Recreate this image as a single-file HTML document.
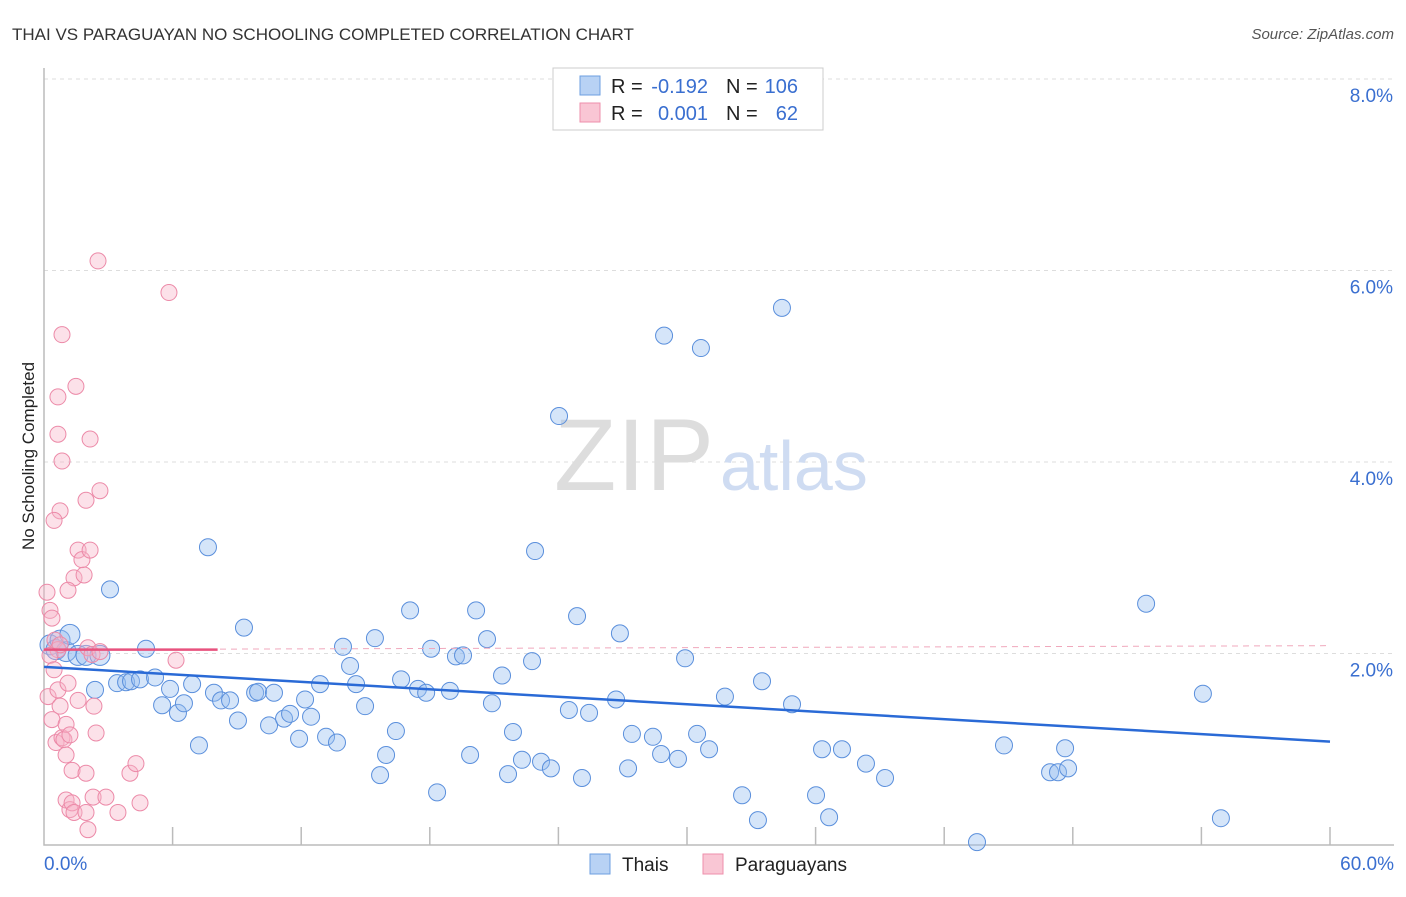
<!DOCTYPE html>
<html><head><meta charset="utf-8"><style>
body{margin:0;background:#fff;font-family:"Liberation Sans",sans-serif}
svg text{font-family:"Liberation Sans",sans-serif}
</style></head><body>
<svg id="chart" width="1406" height="892" viewBox="0 0 1406 892">
<text x="12" y="40" font-size="17" fill="#333">THAI VS PARAGUAYAN NO SCHOOLING COMPLETED CORRELATION CHART</text>
<text x="1394" y="39" font-size="15" fill="#555" font-style="italic" text-anchor="end">Source: ZipAtlas.com</text>
<text x="0" y="0" transform="translate(34,456) rotate(-90)" font-size="17" fill="#222" text-anchor="middle">No Schooling Completed</text>
<g id="grid"></g>
<text x="714" y="490" font-size="102" fill="#ddd" font-family="Liberation Serif" text-anchor="end" textLength="160">ZIP</text>
<text x="720" y="490" font-size="70" fill="#cfdcf2">atlas</text>
<g id="marks"></g>
<g>
<rect x="553" y="68" width="270" height="62" fill="#fff" stroke="#ccc"/>
<rect x="580" y="76" width="20" height="19" fill="#b8d2f4" stroke="#6d9fe0"/>
<rect x="580" y="103" width="20" height="19" fill="#f9c6d4" stroke="#ee8fab"/>
<text x="611" y="93" font-size="20" fill="#222">R =</text>
<text x="708" y="93" font-size="20" fill="#3a6fd0" text-anchor="end">-0.192</text>
<text x="726" y="93" font-size="20" fill="#222">N =</text>
<text x="798" y="93" font-size="20" fill="#3a6fd0" text-anchor="end">106</text>
<text x="611" y="120" font-size="20" fill="#222">R =</text>
<text x="708" y="120" font-size="20" fill="#3a6fd0" text-anchor="end">0.001</text>
<text x="726" y="120" font-size="20" fill="#222">N =</text>
<text x="798" y="120" font-size="20" fill="#3a6fd0" text-anchor="end">62</text>
</g>
<g>
<rect x="590" y="854" width="20" height="20" fill="#b8d2f4" stroke="#6d9fe0"/>
<text x="622" y="871" font-size="19" fill="#222">Thais</text>
<rect x="703" y="854" width="20" height="20" fill="#f9c6d4" stroke="#ee8fab"/>
<text x="735" y="871" font-size="19" fill="#222">Paraguayans</text>
</g>
</svg>
<script>
const yTicks=[2,4,6,8];
const xTickLabels=["0.0%","60.0%"];
const thaisX=[0.28,0.56,0.75,1.03,1.21,1.59,1.96,2.61,2.38,3.08,3.41,3.83,4.06,4.48,4.76,5.18,5.51,5.88,6.25,6.53,6.91,7.23,7.65,7.93,8.26,8.68,9.05,9.33,9.85,9.99,10.50,10.73,11.20,11.48,11.90,12.18,12.46,12.88,13.16,13.67,13.95,14.28,14.56,14.98,15.44,15.68,15.96,16.42,16.66,17.08,17.45,17.83,18.06,18.34,18.94,19.22,19.55,19.88,20.16,20.67,20.90,21.37,21.65,21.88,22.30,22.77,22.91,23.19,23.65,24.03,24.49,24.87,25.10,25.43,26.69,26.87,27.25,27.43,28.41,28.79,28.93,29.58,29.91,30.47,30.65,31.03,31.77,32.57,33.31,33.50,34.43,34.90,36.02,36.30,36.63,37.23,38.35,39.24,43.53,44.79,46.94,47.31,47.64,47.78,51.42,54.07,54.91];
const thaisY=[2.09,2.04,2.14,2.02,2.20,1.98,1.98,1.98,1.62,2.67,1.69,1.70,1.71,1.73,2.05,1.75,1.46,1.63,1.38,1.48,1.68,1.04,3.11,1.59,1.51,1.51,1.30,2.27,1.59,1.60,1.25,1.59,1.32,1.37,1.11,1.52,1.34,1.68,1.13,1.07,2.07,1.87,1.68,1.45,2.16,0.73,0.94,1.19,1.73,2.45,1.63,1.59,2.05,0.55,1.61,1.97,1.98,0.94,2.45,2.15,1.48,1.77,0.74,1.18,0.89,1.92,3.07,0.87,0.80,4.48,1.41,2.39,0.70,1.38,1.52,2.21,0.80,1.16,1.13,0.95,5.32,0.90,1.95,1.16,5.19,1.00,1.55,0.52,0.26,1.71,5.61,1.47,0.52,1.00,0.29,1.00,0.85,0.70,0.03,1.04,0.76,0.76,1.01,0.80,2.52,1.58,0.28];
const parX=[0.14,0.28,0.37,0.51,0.65,0.75,0.28,0.47,0.19,0.37,0.56,0.65,0.75,0.84,0.93,1.03,1.12,1.03,1.21,1.31,1.03,1.21,1.31,1.40,1.96,2.05,1.96,2.29,2.43,2.33,1.59,1.40,1.87,1.59,1.77,2.15,1.96,2.61,0.75,0.47,0.65,0.84,0.65,1.49,2.15,0.84,2.52,5.83,2.05,2.24,2.61,2.89,3.45,4.01,4.29,4.48,6.16,1.12];
const parY=[2.64,2.45,2.37,2.14,2.04,2.09,1.98,1.83,1.55,1.31,1.07,1.62,1.45,1.12,1.10,0.94,1.69,1.26,1.15,0.78,0.47,0.37,0.44,0.34,0.75,0.16,0.34,0.50,1.17,1.45,1.51,2.79,2.82,3.08,2.98,3.08,3.60,3.70,3.49,3.39,4.29,4.01,4.68,4.79,4.24,5.33,6.10,5.77,2.06,1.99,2.02,0.50,0.34,0.75,0.85,0.44,1.93,2.66];
const thaiTrend=[1.86,1.08];
const parTrend=[2.04,2.04];

const X=v=>44+v/60*1286, Y=v=>845-v/2*191.5;
const NS="http://www.w3.org/2000/svg";
const grid=document.getElementById('grid'), marks=document.getElementById('marks'), svg=document.getElementById('chart');
function mk(tag,attrs,parent){const e=document.createElementNS(NS,tag);for(const k in attrs)e.setAttribute(k,attrs[k]);parent.appendChild(e);return e;}
yTicks.forEach(t=>{
  const l=mk('line',{x1:44,x2:1394,y1:Y(t),y2:Y(t),stroke:'#ddd','stroke-dasharray':'4,4'},grid);
  
  
  const tx=mk('text',{x:1393,y:Y(t)+23,'font-size':19,fill:'#3a6fd0','text-anchor':'end'},svg);
  tx.textContent=t.toFixed(1)+'%';
  
  
});
const ax=mk('path',{d:'M44,68V845H1394',fill:'none',stroke:'#bbb','stroke-width':1.5},grid);


for(let i=1;i<=10;i++){
  const t=mk('line',{x1:X(i*6),x2:X(i*6),y1:827,y2:845,stroke:'#bbb','stroke-width':1.5},grid);
  
  
}
[[0,'start',44],[60,'end',1394]].forEach((d,i)=>{
  const t=mk('text',{x:d[2],y:870,'font-size':19,fill:'#3a6fd0','text-anchor':d[1]},svg);
  t.textContent=xTickLabels[i];
  
  
});
thaisX.forEach((x,i)=>{
  const c=mk('circle',{cx:X(x),cy:Y(thaisY[i]),r:i<8?10:8.5,fill:'rgba(150,190,240,0.4)',stroke:'#5a8fdc','stroke-width':1},marks);
  
  
});
parX.forEach((x,i)=>{
  const c=mk('circle',{cx:X(x),cy:Y(parY[i]),r:8,fill:'rgba(248,180,200,0.4)',stroke:'#ec8aa8','stroke-width':1},marks);
  
  
});
const pd=mk('line',{x1:X(0),x2:X(60),y1:Y(parTrend[0]),y2:Y(parTrend[1])-4,stroke:'#f0a8bc','stroke-dasharray':'6,5'},marks);


const pl=mk('line',{x1:X(0),x2:X(8.1),y1:Y(parTrend[0]),y2:Y(parTrend[0]),stroke:'#e8527e','stroke-width':2.5},marks);


const bl=mk('line',{x1:X(0),x2:X(60),y1:Y(thaiTrend[0]),y2:Y(thaiTrend[1]),stroke:'#2a6ad6','stroke-width':2.5},marks);


</script>
</body></html>
